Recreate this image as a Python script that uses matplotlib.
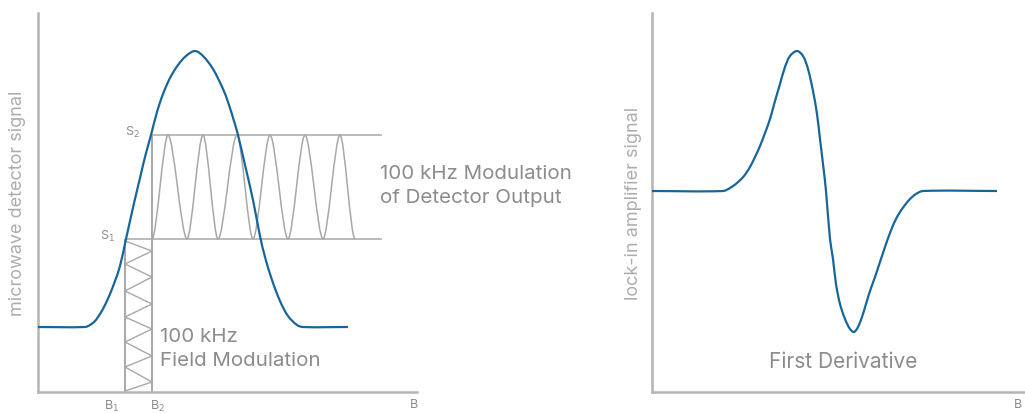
import math
import matplotlib
matplotlib.use("Agg")
import matplotlib.pyplot as plt
from matplotlib.path import Path
from matplotlib.patches import PathPatch

plt.rcParams['font.family'] = ['Inter', 'DejaVu Sans']

# ---------------- data ----------------
# left panel: absorption line (field B vs microwave detector signal)
abs_B = [0, 47, 52, 57, 62, 67, 72, 77, 82, 88, 92, 97, 102, 107, 113, 119, 125,
         132, 140, 148, 157, 165, 175, 185, 190, 196, 200, 207, 215, 222, 227, 234,
         242, 250, 259, 265, 310]
abs_S = [65, 65, 67, 71, 78, 87, 98, 111, 126, 153, 171, 193, 214, 235, 257, 280,
         298, 314, 327, 336, 341, 336, 323, 303, 290, 271, 257, 227, 192, 156, 135,
         112, 91, 76, 67, 65, 65]

B1, B2 = 87, 114          # field-modulation limits
S1, S2 = 153, 257         # detector output limits
line_end = 344

# detector-output modulation extrema (field positions)
out_troughs = [114, 149, 180, 215, 250, 285, 317]
out_peaks = [130, 165, 199, 232, 267, 302]

# field-modulation zigzag vertices (signal positions, alternating sides)
zig_S = [151, 141, 128, 115, 101, 88, 75, 63, 50, 36, 25, 10, 1]

# right panel: first derivative
der_B = [0, 71, 78, 85, 92, 98, 103, 108, 113, 118, 123, 128, 133, 138, 145, 151,
         156, 161, 165, 168, 171, 174, 178, 181, 184, 188, 193, 198, 202, 206,
         210, 214, 218, 223, 228, 233, 238, 243, 248, 253, 258, 264, 271, 345]
der_S = [201, 201, 204, 209, 216, 225, 235, 246, 259, 273, 291, 308, 325, 336, 341,
         336, 323, 301, 278, 253, 228, 201, 153, 133, 108, 88, 73, 63, 60, 65,
         75, 88, 101, 115, 130, 145, 159, 171, 180, 187, 193, 198, 201, 201]

# ---------------- style ----------------
BLUE = '#17669b'
AXG = '#b4b4b4'
LG = '#a8a8a8'
TXT = '#8c8c8c'

W, H = 1025, 414
fig = plt.figure(figsize=(W / 100, H / 100), dpi=100)

def add_ax(x0, x1, y0=14, y1=393):
    return fig.add_axes([x0 / W, 1 - y1 / H, (x1 - x0) / W, (y1 - y0) / H])

def smooth_path(xs, ys):
    """Chord-length parametrised Bezier path through the given points."""
    pts = list(zip(xs, ys))
    n = len(pts)
    d = [math.dist(pts[i], pts[i + 1]) for i in range(n - 1)]
    tan = []
    for i in range(n):
        if i == 0:
            tan.append(((pts[1][0] - pts[0][0]) / d[0], (pts[1][1] - pts[0][1]) / d[0]))
        elif i == n - 1:
            tan.append(((pts[i][0] - pts[i - 1][0]) / d[i - 1],
                        (pts[i][1] - pts[i - 1][1]) / d[i - 1]))
        else:
            s = d[i - 1] + d[i]
            tan.append(((pts[i + 1][0] - pts[i - 1][0]) / s,
                        (pts[i + 1][1] - pts[i - 1][1]) / s))
    verts = [pts[0]]
    codes = [Path.MOVETO]
    for i in range(n - 1):
        L = d[i] / 3
        c1 = (pts[i][0] + tan[i][0] * L, pts[i][1] + tan[i][1] * L)
        c2 = (pts[i + 1][0] - tan[i + 1][0] * L, pts[i + 1][1] - tan[i + 1][1] * L)
        verts += [c1, c2, pts[i + 1]]
        codes += [Path.CURVE4] * 3
    return Path(verts, codes)

axL = add_ax(38, 417)
axR = add_ax(652, 1025)
for ax, xmax in ((axL, 379), (axR, 373)):
    ax.set_xlim(0, xmax)
    ax.set_ylim(0, 379)
    ax.set_xticks([])
    ax.set_yticks([])
    for s in ('top', 'right'):
        ax.spines[s].set_visible(False)
    for s in ('left', 'bottom'):
        ax.spines[s].set_color(AXG)
        ax.spines[s].set_linewidth(1.8)
    ax.patch.set_alpha(0)

# ---- left panel ----
axL.hlines([S1], B1, line_end, color=LG, lw=1.1, zorder=2)
axL.hlines([S2], B2, line_end, color=LG, lw=1.1, zorder=2)
axL.vlines([B1], 0, S1, color=LG, lw=1.4, zorder=2)
axL.vlines([B2], 0, S2, color=LG, lw=1.4, zorder=2)

# zigzag of field modulation
zig_B = [B1 if i % 2 == 0 else B2 for i in range(len(zig_S))]
axL.plot(zig_B, zig_S, color=LG, lw=1.0, zorder=2)

# detector output modulation: smooth wave through the extrema
ext = []
for i in range(len(out_peaks)):
    ext.append((out_troughs[i], S1))
    ext.append((out_peaks[i], S2))
ext.append((out_troughs[-1], S1))
verts = [ext[0]]
codes = [Path.MOVETO]
k = 0.3
for (xa, ya), (xb, yb) in zip(ext[:-1], ext[1:]):
    dx = xb - xa
    verts += [(xa + k * dx, ya), (xb - k * dx, yb), (xb, yb)]
    codes += [Path.CURVE4] * 3
axL.add_patch(PathPatch(Path(verts, codes), fill=False, edgecolor=LG, lw=1.1, zorder=2))

axL.add_patch(PathPatch(smooth_path(abs_B, abs_S), fill=False, edgecolor=BLUE,
                        lw=1.6, zorder=3, capstyle='butt'))

axL.text(342, 207, '100 kHz Modulation\nof Detector Output', color=TXT, fontsize=14.8,
         ha='left', va='center', linespacing=1.45)
axL.text(122, 44, '100 kHz\nField Modulation', color=TXT, fontsize=14.8,
         ha='left', va='center', linespacing=1.4)
axL.text(B1 - 10, S1 + 4, r'S$_1$', color=TXT, fontsize=9, ha='right', va='center')
axL.text(B2 - 12, S2 + 4, r'S$_2$', color=TXT, fontsize=9, ha='right', va='center')
axL.text(B1 - 13, -6, r'B$_1$', color=TXT, fontsize=9, ha='center', va='top')
axL.text(B2 + 5, -6, r'B$_2$', color=TXT, fontsize=9, ha='center', va='top')
axL.text(379 - 7, -6, 'B', color=TXT, fontsize=9, ha='left', va='top')

# ---- right panel ----
axR.add_patch(PathPatch(smooth_path(der_B, der_S), fill=False, edgecolor=BLUE,
                        lw=1.6, zorder=3, capstyle='butt'))
axR.text(191, 31, 'First Derivative', color=TXT, fontsize=15, ha='center', va='center')
axR.text(362, -6, 'B', color=TXT, fontsize=9, ha='left', va='top')

fig.text(18 / W, 1 - 203 / H, 'microwave detector signal', color='#adadad', fontsize=13,
         rotation=90, ha='center', va='center')
fig.text(633 / W, 1 - 203 / H, 'lock-in amplifier signal', color='#adadad', fontsize=13,
         rotation=90, ha='center', va='center')

fig.savefig('out.png', dpi=100)
